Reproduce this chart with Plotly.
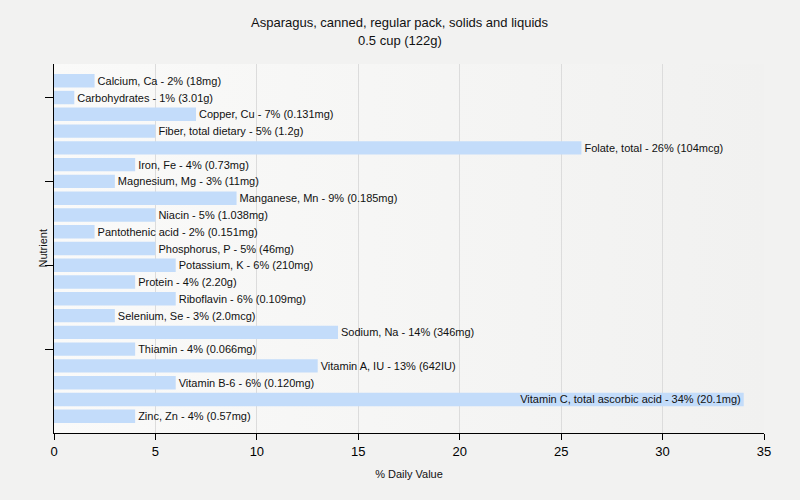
import base64
import plotly.graph_objects as go

nutrients = ["Calcium, Ca", "Carbohydrates", "Copper, Cu", "Fiber, total dietary", "Folate, total",
             "Iron, Fe", "Magnesium, Mg", "Manganese, Mn", "Niacin", "Pantothenic acid",
             "Phosphorus, P", "Potassium, K", "Protein", "Riboflavin", "Selenium, Se",
             "Sodium, Na", "Thiamin", "Vitamin A, IU", "Vitamin B-6", "Vitamin C, total ascorbic acid",
             "Zinc, Zn"]
percent = [2, 1, 7, 5, 26, 4, 3, 9, 5, 2, 5, 6, 4, 6, 3, 14, 4, 13, 6, 34, 4]
amounts = ["18mg", "3.01g", "0.131mg", "1.2g", "104mcg", "0.73mg", "11mg", "0.185mg", "1.038mg",
           "0.151mg", "46mg", "210mg", "2.20g", "0.109mg", "2.0mcg", "346mg", "0.066mg", "642IU",
           "0.120mg", "20.1mg", "0.57mg"]
x_range = [0, 35]
y_range = [len(nutrients), -1]

FONT = "Liberation Sans"
labels = [f"{n} - {p}% ({a})" for n, p, a in zip(nutrients, percent, amounts)]
ypos = list(range(len(nutrients)))
positions = ["inside" if p >= 30 else "outside" for p in percent]

svg = ('<svg xmlns="http://www.w3.org/2000/svg" width="100" height="100" preserveAspectRatio="none">'
       '<defs><linearGradient id="g" x1="0" y1="0" x2="1" y2="0">'
       '<stop offset="0" stop-color="#fafaf9"/><stop offset="1" stop-color="#f1f1f0"/>'
       '</linearGradient></defs><rect width="100" height="100" fill="url(#g)"/></svg>')
bg_src = "data:image/svg+xml;base64," + base64.b64encode(svg.encode()).decode()

fig = go.Figure()
fig.add_trace(go.Bar(
    x=percent, y=ypos, orientation="h", width=0.8,
    marker=dict(color="#c3dcfa", line=dict(width=0)),
    text=labels, textposition=positions, insidetextanchor="end",
    textfont=dict(family=FONT, size=11, color="#111111"),
    cliponaxis=False, constraintext="none",
))

fig.update_layout(
    width=800, height=500,
    margin=dict(l=54, r=36, t=64, b=67),
    paper_bgcolor="#f2f2f1", plot_bgcolor="rgba(0,0,0,0)",
    showlegend=False,
    font=dict(family=FONT, size=12, color="#111111"),
    images=[dict(source=bg_src, xref="paper", yref="paper", x=0, y=1, sizex=1, sizey=1,
                 xanchor="left", yanchor="top", sizing="stretch", layer="below")],
    annotations=[
        dict(text="Asparagus, canned, regular pack, solids and liquids", xref="paper", yref="paper",
             x=0.5, y=1, yshift=42, xshift=-9, xanchor="center", yanchor="middle", showarrow=False,
             font=dict(family=FONT, size=13, color="#111111")),
        dict(text="0.5 cup (122g)", xref="paper", yref="paper",
             x=0.5, y=1, yshift=24, xshift=-9, xanchor="center", yanchor="middle", showarrow=False,
             font=dict(family=FONT, size=13, color="#111111")),
        dict(text="Nutrient", xref="paper", yref="paper", x=0, y=0.5, xshift=-12,
             xanchor="center", yanchor="middle",
             textangle=-90, showarrow=False, font=dict(family=FONT, size=11, color="#111111")),
    ],
)
fig.update_xaxes(range=x_range, dtick=5, showgrid=True, gridcolor="#dcdcdc", gridwidth=1,
                 showline=True, linecolor="black", linewidth=1, ticks="outside", ticklen=6,
                 tickcolor="black", zeroline=False,
                 title=dict(text="% Daily Value", font=dict(size=11), standoff=12),
                 tickfont=dict(size=13, color="black"))
fig.update_yaxes(range=y_range, tickvals=[1, 6, 11, 16], ticktext=["", "", "", ""],
                 showgrid=False, showline=True, linecolor="black", linewidth=1,
                 ticks="outside", ticklen=8, tickcolor="black", zeroline=False)

fig.write_html("out.html")
